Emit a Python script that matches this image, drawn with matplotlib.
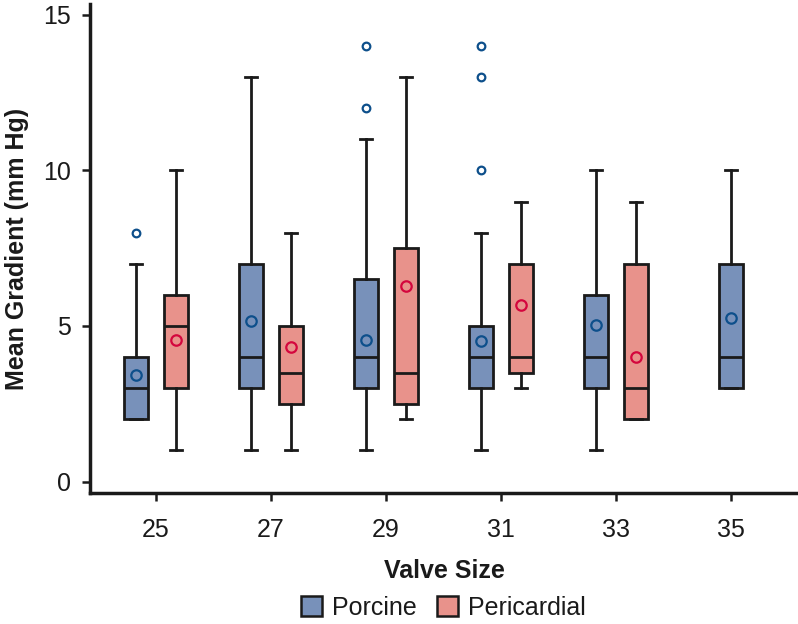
import matplotlib
matplotlib.use("Agg")
import matplotlib.pyplot as plt
from matplotlib.patches import Patch

plt.rcParams['font.family'] = ['Liberation Sans', 'DejaVu Sans']

sizes = ["25", "27", "29", "31", "33", "35"]

# porcine: whisker low, q1, median, q3, whisker high, mean, outliers
por_lo = [2, 1, 1, 1, 1, 3]
por_q1 = [2, 3, 3, 3, 3, 3]
por_med = [3, 4, 4, 4, 4, 4]
por_q3 = [4, 7, 6.5, 5, 6, 7]
por_hi = [7, 13, 11, 8, 10, 10]
por_mean = [3.42, 5.16, 4.56, 4.52, 5.02, 5.27]
por_out = [[8], [], [12, 14], [10, 13, 14], [], []]

# pericardial (no 35 valves)
per_lo = [1, 1, 2, 3, 2]
per_q1 = [3, 2.5, 2.5, 3.5, 2]
per_med = [5, 3.5, 3.5, 4, 3]
per_q3 = [6, 5, 7.5, 7, 7]
per_hi = [10, 8, 13, 9, 9]
per_mean = [4.56, 4.34, 6.29, 5.67, 4.0]

blue_fill = "#7891ba"
red_fill = "#e8928b"
blue_mark = "#0d4f8b"
red_mark = "#d4063d"

def make_stats(lo, q1, med, q3, hi, mean, out=None):
    st = []
    for i in range(len(lo)):
        st.append(dict(whislo=lo[i], q1=q1[i], med=med[i], q3=q3[i], whishi=hi[i],
                       mean=mean[i], fliers=out[i] if out else []))
    return st

fig = plt.figure(figsize=(7.98, 6.24), dpi=100)
ax = fig.add_axes([0.1128, 0.2099, 0.8872, 0.7837])

off = 0.174
w = 0.209
pos_por = [i - off if i < 5 else i for i in range(6)]
pos_per = [i + off for i in range(5)]

common = dict(widths=w, capwidths=0.105, patch_artist=True, showmeans=True,
              boxprops=dict(edgecolor="#1a1a1a", linewidth=2.0),
              medianprops=dict(color="#1a1a1a", linewidth=2.0),
              whiskerprops=dict(color="#1a1a1a", linewidth=2.0),
              capprops=dict(color="#1a1a1a", linewidth=2.0))

b1 = ax.bxp(make_stats(por_lo, por_q1, por_med, por_q3, por_hi, por_mean, por_out),
            positions=pos_por,
            meanprops=dict(marker="o", markerfacecolor="none", markeredgecolor=blue_mark,
                           markersize=7.5, markeredgewidth=1.6),
            flierprops=dict(marker="o", markerfacecolor="none", markeredgecolor=blue_mark,
                            markersize=5.5, markeredgewidth=1.6),
            **common)
b2 = ax.bxp(make_stats(per_lo, per_q1, per_med, per_q3, per_hi, per_mean),
            positions=pos_per,
            meanprops=dict(marker="o", markerfacecolor="none", markeredgecolor=red_mark,
                           markersize=7.5, markeredgewidth=1.6),
            **common)
for b in b1["boxes"]:
    b.set_facecolor(blue_fill)
for b in b2["boxes"]:
    b.set_facecolor(red_fill)

ax.set_xlim(-0.574, 5.583)
ax.set_ylim(-0.37, 15.35)
ax.set_xticks(range(6))
ax.set_xticklabels(sizes)
ax.set_yticks([0, 5, 10, 15])
ax.tick_params(axis="both", labelsize=18, width=1.8, length=6, color="#1a1a1a",
               labelcolor="#1a1a1a")
ax.tick_params(axis="x", pad=12)
ax.tick_params(axis="y", pad=8)
for s in ["top", "right"]:
    ax.spines[s].set_visible(False)
for s in ["left", "bottom"]:
    ax.spines[s].set_linewidth(2.5)
    ax.spines[s].set_color("#1a1a1a")

ax.set_xlabel("Valve Size", fontsize=18, fontweight="bold", labelpad=12, color="#1a1a1a")
ax.set_ylabel("Mean Gradient (mm Hg)", fontsize=18, fontweight="bold", labelpad=10,
              color="#1a1a1a")

handles = [Patch(facecolor=blue_fill, edgecolor="#1a1a1a", linewidth=1.8, label="Porcine"),
           Patch(facecolor=red_fill, edgecolor="#1a1a1a", linewidth=1.8, label="Pericardial")]
fig.legend(handles=handles, loc="center", bbox_to_anchor=(0.556, 0.026), ncol=2,
           frameon=False, fontsize=18, handlelength=0.85, handleheight=0.85,
           handletextpad=0.4, columnspacing=0.8, labelcolor="#1a1a1a")

fig.savefig("out.png", dpi=100)
